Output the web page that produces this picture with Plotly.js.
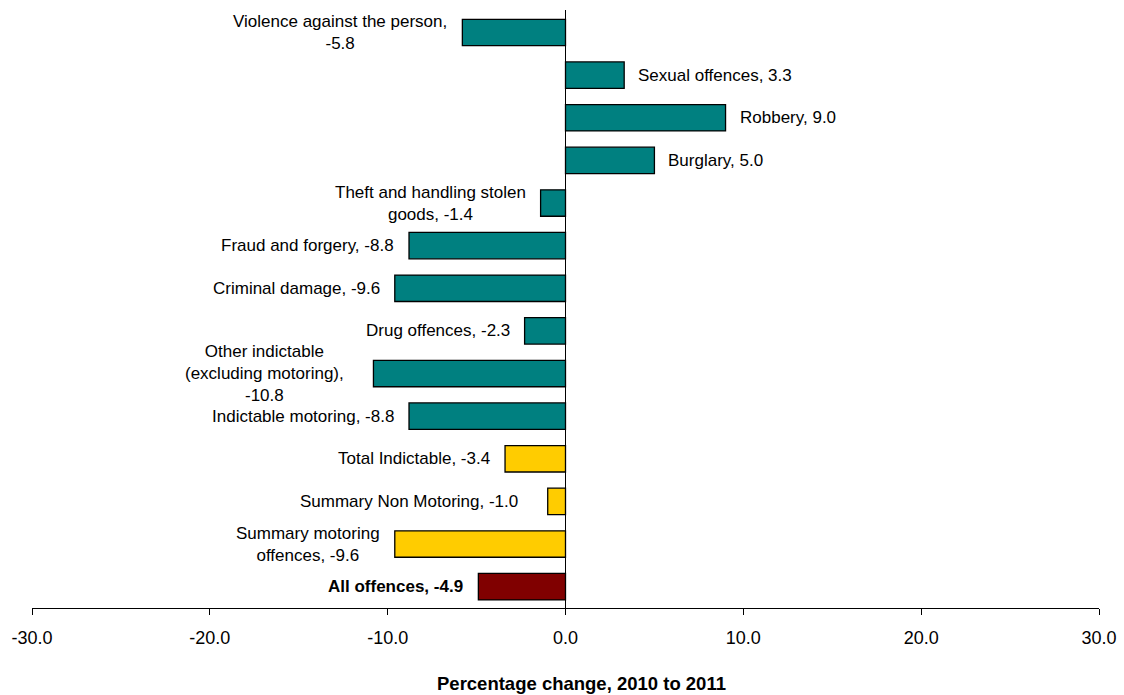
<!DOCTYPE html>
<html>
<head>
<meta charset="utf-8">
<script src="https://cdn.plot.ly/plotly-3.0.1.min.js"></script>
<style>html,body{margin:0;padding:0;background:#fff;}#chart{width:1124px;height:695px;}</style>
</head>
<body>
<div id="chart"></div>
<script>
const categories = [
  "Violence against the person",
  "Sexual offences",
  "Robbery",
  "Burglary",
  "Theft and handling stolen goods",
  "Fraud and forgery",
  "Criminal damage",
  "Drug offences",
  "Other indictable (excluding motoring)",
  "Indictable motoring",
  "Total Indictable",
  "Summary Non Motoring",
  "Summary motoring offences",
  "All offences"
];
const values = [-5.8, 3.3, 9.0, 5.0, -1.4, -8.8, -9.6, -2.3, -10.8, -8.8, -3.4, -1.0, -9.6, -4.9];
const labelTemplates = [
  "Violence against the person,<br>{v}",
  "Sexual offences, {v}",
  "Robbery, {v}",
  "Burglary, {v}",
  "Theft and handling stolen<br>goods, {v}",
  "Fraud and forgery, {v}",
  "Criminal damage, {v}",
  "Drug offences, {v}",
  "Other indictable<br>(excluding motoring),<br>{v}",
  "Indictable motoring, {v}",
  "Total Indictable, {v}",
  "Summary Non Motoring, {v}",
  "Summary motoring<br>offences, {v}",
  "All offences, {v}"
];
const groups = ["offence","offence","offence","offence","offence","offence","offence","offence","offence","offence","total","total","total","all"];
const xTicks = [-30, -20, -10, 0, 10, 20, 30];
const xTitle = "Percentage change, 2010 to 2011";

const groupColors = {offence: "#008080", total: "#FFCC00", all: "#800000"};
const FONT = "Liberation Sans, Arial, sans-serif";
// label boxes in the original sit a little further out for these two
const extraLabelGap = {"Other indictable (excluding motoring)": 14, "Summary Non Motoring": 15};

const trace = {
  type: "bar",
  orientation: "h",
  y: categories,
  x: values,
  marker: {
    color: groups.map(g => groupColors[g]),
    line: {color: "#000000", width: 1.3}
  },
  hoverinfo: "x+y"
};

const annotations = values.map((v, i) => {
  const txt = labelTemplates[i].replace("{v}", v.toFixed(1));
  const extra = extraLabelGap[categories[i]] || 0;
  return {
    x: v, y: categories[i], xref: "x", yref: "y",
    text: txt,
    showarrow: false,
    xanchor: v >= 0 ? "left" : "right",
    yanchor: "middle",
    xshift: v >= 0 ? 12 + extra : -13 - extra,
    align: "center",
    font: {family: FONT, size: 17, color: "#000000", weight: groups[i] === "all" ? "bold" : "normal"}
  };
});

// axis title, placed as in the original (slightly right of centre)
annotations.push({
  x: 0.5, y: 0, xref: "paper", yref: "paper",
  xanchor: "center", yanchor: "middle",
  xshift: 16, yshift: -75,
  text: xTitle, showarrow: false,
  font: {family: FONT, size: 18.5, color: "#000000", weight: "bold"}
});

const layout = {
  width: 1124, height: 695,
  margin: {l: 32, r: 25, t: 10, b: 87},
  paper_bgcolor: "#ffffff",
  plot_bgcolor: "#ffffff",
  showlegend: false,
  bargap: 0.38,
  font: {family: FONT, size: 16, color: "#000000"},
  xaxis: {
    range: [-30, 30],
    tickvals: xTicks,
    ticktext: xTicks.map(t => t.toFixed(1)),
    showgrid: false,
    zeroline: true,
    zerolinecolor: "#000000",
    zerolinewidth: 1,
    showline: true,
    linecolor: "#000000",
    linewidth: 1,
    ticks: "outside",
    ticklen: 6,
    tickcolor: "#000000",
    tickwidth: 1,
    ticklabelstandoff: 7,
    tickfont: {family: FONT, size: 18, color: "#000000"},
    automargin: false,
    fixedrange: true
  },
  yaxis: {
    autorange: "reversed",
    showticklabels: false,
    showgrid: false,
    zeroline: false,
    showline: false,
    ticks: "",
    automargin: false,
    fixedrange: true
  },
  annotations: annotations
};

Plotly.newPlot("chart", [trace], layout, {displayModeBar: false, staticPlot: true});
</script>
</body>
</html>
